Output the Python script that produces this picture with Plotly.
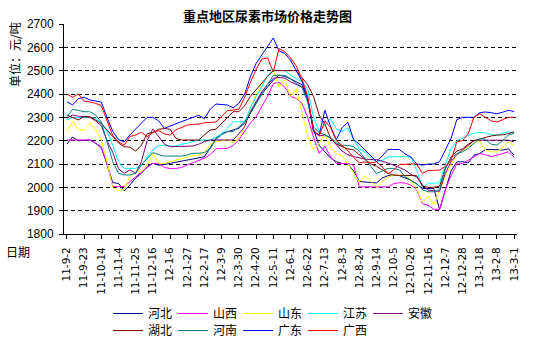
import pandas as pd
import plotly.graph_objects as go

# weekly observation dates (category labels)
dates = pd.date_range("2011-09-02", periods=79, freq="7D")
categories = [f"{d.year % 100}-{d.month}-{d.day}" for d in dates]

tick_labels = ["11-9-2", "11-9-23", "11-10-14", "11-11-4", "11-11-25", "11-12-16",
               "12-1-6", "12-1-27", "12-2-17", "12-3-9", "12-3-30", "12-4-20",
               "12-5-11", "12-6-1", "12-6-22", "12-7-13", "12-8-3", "12-8-24",
               "12-9-14", "12-10-5", "12-10-26", "12-11-16", "12-12-7", "12-12-28",
               "13-1-18", "13-2-8", "13-3-1"]

hebei = [2185, 2215, 2200, 2203, 2203, 2189, 2170, 2100, 2020, 2017, 1985, 2010, 2040, 2060, 2090, 2103,
         2095, 2098, 2103, 2105, 2110, 2115, 2120, 2125, 2131, 2170, 2210, 2231, 2239, 2245, 2253, 2275,
         2320, 2360, 2400, 2430, 2460, 2481, 2475, 2465, 2453, 2440, 2380, 2250, 2180, 2150, 2125, 2110,
         2102, 2100, 2070, 2025, 2022, 2020, 2019, 2040, 2050, 2052, 2050, 2040, 2031, 2015, 1995, 1995,
         1995, 1905, 1990, 2070, 2109, 2110, 2105, 2138, 2145, 2162, 2162, 2162, 2160, 2165, 2138]
shanxi = [2203, 2203, 2203, 2203, 2203, 2189, 2174, 2100, 2003, 2003, 2003, 2025, 2046, 2065, 2085, 2103,
          2103, 2085, 2081, 2081, 2085, 2096, 2105, 2117, 2125, 2140, 2165, 2167, 2167, 2180, 2203, 2240,
          2275, 2302, 2345, 2390, 2445, 2450, 2430, 2390, 2381, 2360, 2300, 2216, 2145, 2175, 2130, 2102,
          2102, 2102, 2095, 2002, 2002, 2002, 2002, 2002, 2002, 2016, 2020, 2018, 2010, 1990, 1930, 1923,
          1906, 1905, 1990, 2050, 2100, 2102, 2117, 2130, 2145, 2140, 2131, 2138, 2145, 2152, 2130]
shandong = [2239, 2281, 2246, 2246, 2277, 2246, 2203, 2110, 1998, 1986, 1992, 2046, 2067, 2067, 2096, 2145,
            2102, 2103, 2110, 2117, 2124, 2131, 2135, 2139, 2150, 2185, 2196, 2200, 2203, 2190, 2210, 2260,
            2340, 2400, 2440, 2480, 2500, 2430, 2460, 2390, 2420, 2320, 2220, 2160, 2190, 2230, 2170, 2145,
            2135, 2100, 2060, 2023, 2050, 2025, 2002, 2025, 2045, 2052, 2052, 2052, 2031, 1995, 1935, 1962,
            1925, 1990, 2050, 2100, 2140, 2155, 2175, 2190, 2200, 2160, 2152, 2152, 2170, 2195, 2180]
jiangsu = [2289, 2300, 2300, 2300, 2300, 2296, 2277, 2240, 2180, 2110, 2081, 2081, 2081, 2096, 2130, 2160,
           2180, 2177, 2177, 2177, 2185, 2189, 2196, 2203, 2203, 2203, 2215, 2230, 2253, 2281, 2281, 2281,
           2340, 2390, 2430, 2480, 2503, 2503, 2500, 2481, 2465, 2452, 2420, 2302, 2240, 2270, 2295, 2250,
           2240, 2255, 2205, 2165, 2150, 2125, 2109, 2115, 2131, 2131, 2131, 2131, 2131, 2074, 2000, 2017,
           2019, 2019, 2100, 2165, 2200, 2210, 2220, 2232, 2235, 2234, 2226, 2224, 2232, 2238, 2232]
anhui = [2296, 2310, 2305, 2303, 2300, 2285, 2265, 2200, 2150, 2080, 2060, 2075, 2060, 2110, 2200, 2250,
         2220, 2185, 2174, 2174, 2174, 2175, 2177, 2185, 2196, 2203, 2203, 2203, 2203, 2203, 2230, 2260,
         2325, 2370, 2410, 2440, 2467, 2471, 2468, 2452, 2440, 2430, 2380, 2240, 2220, 2225, 2210, 2180,
         2155, 2140, 2131, 2127, 2121, 2119, 2119, 2112, 2105, 2095, 2085, 2074, 2055, 2045, 2010, 1988,
         1985, 1983, 2060, 2110, 2140, 2160, 2180, 2200, 2202, 2202, 2202, 2202, 2202, 2202, 2195]
hubei = [2310, 2300, 2289, 2303, 2303, 2289, 2274, 2246, 2220, 2190, 2174, 2172, 2155, 2181, 2230, 2235,
         2249, 2252, 2249, 2210, 2203, 2203, 2203, 2203, 2225, 2246, 2249, 2274, 2300, 2324, 2324, 2350,
         2390, 2420, 2450, 2475, 2500, 2500, 2500, 2500, 2500, 2470, 2440, 2390, 2310, 2270, 2210, 2185,
         2175, 2165, 2160, 2140, 2120, 2100, 2090, 2075, 2060, 2052, 2052, 2050, 2052, 2050, 2005, 2000,
         2000, 2005, 2080, 2130, 2155, 2165, 2185, 2200, 2207, 2215, 2220, 2224, 2225, 2230, 2238]
henan = [2303, 2334, 2330, 2324, 2324, 2310, 2281, 2200, 2110, 2060, 2053, 2053, 2060, 2096, 2125, 2149,
         2140, 2134, 2134, 2134, 2134, 2139, 2146, 2146, 2149, 2165, 2205, 2225, 2239, 2239, 2260, 2280,
         2320, 2360, 2400, 2440, 2480, 2480, 2480, 2465, 2445, 2430, 2365, 2259, 2235, 2224, 2215, 2190,
         2180, 2180, 2175, 2155, 2120, 2090, 2059, 2070, 2081, 2081, 2075, 2045, 2031, 2015, 1990, 1981,
         1981, 1990, 2080, 2125, 2145, 2152, 2167, 2190, 2210, 2205, 2185, 2181, 2200, 2224, 2231]
guangdong = [2367, 2353, 2380, 2386, 2375, 2370, 2365, 2300, 2240, 2205, 2195, 2225, 2250, 2275, 2300, 2300,
             2285, 2253, 2263, 2274, 2281, 2291, 2300, 2309, 2294, 2335, 2357, 2355, 2353, 2341, 2360, 2400,
             2474, 2531, 2567, 2603, 2640, 2585, 2574, 2545, 2500, 2455, 2380, 2240, 2225, 2330, 2260, 2205,
             2255, 2280, 2205, 2185, 2160, 2135, 2110, 2135, 2162, 2162, 2162, 2143, 2130, 2100, 2095, 2100,
             2100, 2110, 2160, 2210, 2290, 2300, 2300, 2300, 2320, 2323, 2320, 2315, 2322, 2330, 2325]
guangxi = [2400, 2386, 2400, 2370, 2366, 2360, 2350, 2285, 2222, 2195, 2181, 2218, 2224, 2236, 2217, 2235,
           2243, 2229, 2224, 2246, 2257, 2267, 2270, 2271, 2277, 2279, 2280, 2303, 2329, 2331, 2335, 2385,
           2450, 2505, 2550, 2555, 2495, 2595, 2581, 2555, 2520, 2465, 2390, 2245, 2220, 2285, 2255, 2200,
           2180, 2158, 2128, 2105, 2109, 2105, 2109, 2088, 2058, 2075, 2098, 2100, 2100, 2100, 2060, 2072,
           2074, 2074, 2090, 2115, 2195, 2200, 2230, 2300, 2315, 2300, 2285, 2280, 2290, 2300, 2300]

series_names = ["河北", "山西", "山东", "江苏", "安徽", "湖北", "河南", "广东", "广西"]
series_values = [hebei, shanxi, shandong, jiangsu, anhui, hubei, henan, guangdong, guangxi]
series_colors = ["#000080", "#FF00FF", "#FFFF00", "#00FFFF", "#800080",
                 "#800000", "#008080", "#0000FF", "#FF0000"]

CJK = "Noto Sans CJK SC, Liberation Sans, sans-serif"
NUM = "Liberation Sans, Arial, sans-serif"
XNUM = "DejaVu Sans, Liberation Sans, sans-serif"

fig = go.Figure()
for i, (name, vals, color) in enumerate(zip(series_names, series_values, series_colors)):
    fig.add_trace(go.Scatter(
        x=categories, y=vals, mode="lines", name=name,
        line=dict(color=color, width=1),
        legend="legend" if i < 5 else "legend2",
    ))

W, H = 545, 340
L, R, T, B = 64, 28, 24, 106
pw, ph = W - L - R, H - T - B

def px(xp):
    return (xp - L) / pw

def py(yp):
    return (H - B - yp) / ph

fig.update_layout(
    width=W, height=H,
    margin=dict(l=L, r=R, t=T, b=B, autoexpand=False),
    paper_bgcolor="white", plot_bgcolor="white",
    showlegend=True,
    font=dict(family=CJK, size=12, color="black"),
    xaxis=dict(
        type="category", range=[-0.5, len(categories) - 0.5],
        tickmode="array", tickvals=tick_labels, ticktext=tick_labels,
        tickangle=-90, tickfont=dict(family=XNUM, size=10.5, color="black"),
        ticklabelstandoff=4,
        showline=True, linecolor="black", linewidth=1,
        ticks="outside", ticklen=4, tickcolor="black",
        showgrid=False, zeroline=False, automargin=False,
    ),
    yaxis=dict(
        range=[1800, 2700], dtick=100, tick0=1800,
        tickfont=dict(family=NUM, size=12, color="black"),
        ticklabelstandoff=3,
        showline=True, linecolor="black", linewidth=1,
        ticks="outside", ticklen=4, tickcolor="black",
        showgrid=True, gridcolor="black", gridwidth=1, griddash="4px,3px",
        zeroline=False, automargin=False,
    ),
    legend=dict(
        orientation="h", x=px(108), xanchor="left", y=py(299), yanchor="top",
        font=dict(family=CJK, size=12), entrywidth=20, entrywidthmode="pixels",
        bgcolor="rgba(0,0,0,0)", tracegroupgap=0,
    ),
    legend2=dict(
        orientation="h", x=px(108), xanchor="left", y=py(316), yanchor="top",
        font=dict(family=CJK, size=12), entrywidth=20, entrywidthmode="pixels",
        bgcolor="rgba(0,0,0,0)", tracegroupgap=0,
    ),
)

fig.add_annotation(text="<b>重点地区尿素市场价格走势图</b>", xref="paper", yref="paper",
                   x=px(267), y=py(15.5), xanchor="center", yanchor="middle",
                   showarrow=False, font=dict(family=CJK, size=13, color="black"))
fig.add_annotation(text="单位：元/吨", xref="paper", yref="paper",
                   x=px(14), y=py(55), xanchor="center", yanchor="middle", textangle=-90,
                   showarrow=False, font=dict(family=CJK, size=12, color="black"))
fig.add_annotation(text="日期", xref="paper", yref="paper",
                   x=px(18), y=py(252), xanchor="center", yanchor="middle",
                   showarrow=False, font=dict(family=CJK, size=12, color="black"))

fig.write_html("out.html")
